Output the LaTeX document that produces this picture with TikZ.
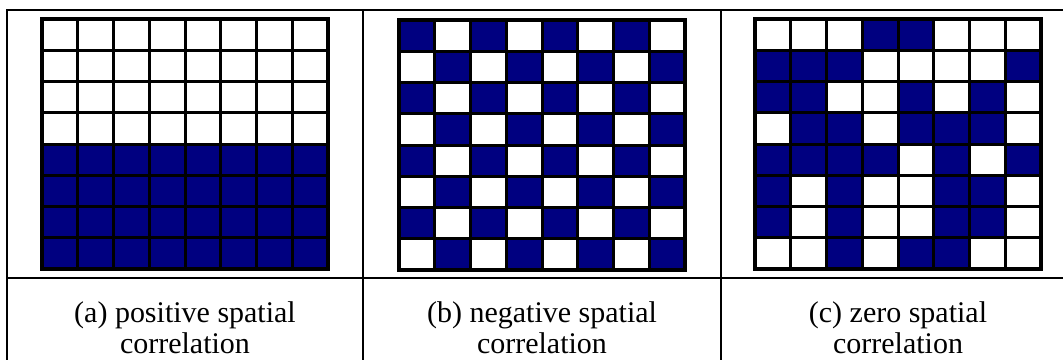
\documentclass[tikz,border=0pt]{standalone}
\usepackage{fontspec}
\setmainfont{Liberation Serif}
\definecolor{navy}{RGB}{0,0,128}
\tikzset{
 tabline/.style={line width=2pt,black},
 gridline/.style={line width=3pt,black},
 gridframe/.style={line width=4pt,black},
 capnode/.style={font=\fontsize{30}{31}\selectfont, align=center, inner sep=0pt},
}
\newcommand{\drawgridpat}[3]{%
 \begin{scope}[shift={(#1,#2)}]
 \foreach \rowv [count=\r from 0] in {#3} {
   \foreach \v [count=\c from 0] in \rowv {
     \ifnum\v=1 \fill[navy] (\c*35.75,\r*31.25) rectangle ++(35.75,31.25); \fi
   }
 }
 \foreach \i in {1,...,7} {
   \draw[gridline] (\i*35.75,0) -- (\i*35.75,250);
   \draw[gridline] (0,\i*31.25) -- (286,\i*31.25);
 }
 \draw[gridframe] (0,0) rectangle (286,250);
 \end{scope}}
\begin{document}
\begin{tikzpicture}[x=1pt,y=-1pt]
\useasboundingbox (0,0) rectangle (1063,360);
\fill[white] (0,0) rectangle (1063,360);
% table
\draw[tabline] (1063,10) -- (7,10) -- (7,360);
\draw[tabline] (363,10) -- (363,360);
\draw[tabline] (721,10) -- (721,360);
\draw[tabline] (7,278) -- (1063,278);
% grids
\drawgridpat{42}{19}{{0,0,0,0,0,0,0,0},{0,0,0,0,0,0,0,0},{0,0,0,0,0,0,0,0},{0,0,0,0,0,0,0,0},{1,1,1,1,1,1,1,1},{1,1,1,1,1,1,1,1},{1,1,1,1,1,1,1,1},{1,1,1,1,1,1,1,1}}
\drawgridpat{399}{20}{{1,0,1,0,1,0,1,0},{0,1,0,1,0,1,0,1},{1,0,1,0,1,0,1,0},{0,1,0,1,0,1,0,1},{1,0,1,0,1,0,1,0},{0,1,0,1,0,1,0,1},{1,0,1,0,1,0,1,0},{0,1,0,1,0,1,0,1}}
\drawgridpat{755}{19}{{0,0,0,1,1,0,0,0},{1,1,1,0,0,0,0,1},{1,1,0,0,1,0,1,0},{0,1,1,0,1,1,1,0},{1,1,1,1,0,1,0,1},{1,0,1,0,0,1,1,0},{1,0,1,0,0,1,1,0},{0,0,1,0,1,1,0,0}}
% captions
\node[capnode] (capa) at (185,328) {(a) positive spatial\\correlation};
\node[capnode] (capb) at (542,328) {(b) negative spatial\\correlation};
\node[capnode] (capc) at (898,328) {(c) zero spatial\\correlation};
\end{tikzpicture}
\end{document}
